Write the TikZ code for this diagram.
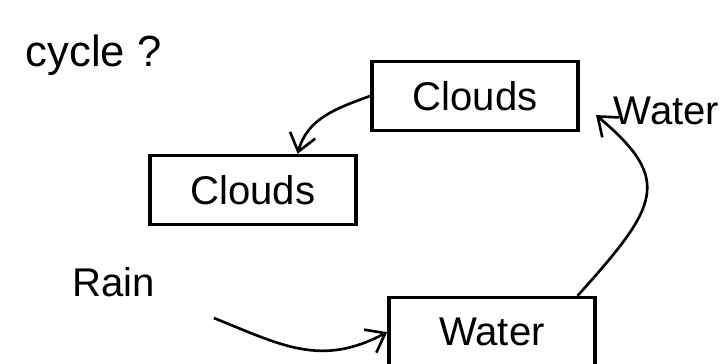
\documentclass[tikz,border=0pt]{standalone}
\usepackage{fontspec}
\setmainfont{Liberation Sans}
\usetikzlibrary{arrows.meta, positioning}

\tikzset{
  box/.style={draw, line width=1pt, minimum width=2.06cm, minimum height=0.69cm, inner sep=0pt,
              font=\fontsize{11.4}{13}\selectfont},
  lbl/.style={inner sep=0pt, anchor=base west, font=\fontsize{11.4}{13}\selectfont},
}

\begin{document}
\begin{tikzpicture}[x=0.01cm, y=-0.01cm, on grid, >={Straight Barb[length=1.7mm,width=2.6mm]}]
   \useasboundingbox (0,0) rectangle (723,364);

   \node[box] (cloudsR) at (475,96) {Clouds};
   \node[box] (cloudsL) [below left=0.94cm and 2.22cm of cloudsR] {Clouds};
   \node[box] (water) [below right=2.36cm and 0.17cm of cloudsR] {Water};

   \node[lbl, font=\fontsize{12.4}{14}\selectfont] (cycle) at (25,67) {cycle ?};
   \node[lbl] (watertxt) at (613,125) {Water};
   \node[lbl] (rain) at (72,297) {Rain};
   \coordinate[below right=0.21cm and 0.58cm of rain.base east] (rainstart);

    \path[->, line width=0.75pt]
    (cloudsR.west) edge [out=200, in=75] (cloudsL.39)
    (water.23) edge [out=48, in=-40, looseness=1.6, shorten >=6pt] (cloudsR.-3)
    (rainstart) edge [out=-22, in=208, looseness=1.1] (water.west);
\end{tikzpicture}
\end{document}
